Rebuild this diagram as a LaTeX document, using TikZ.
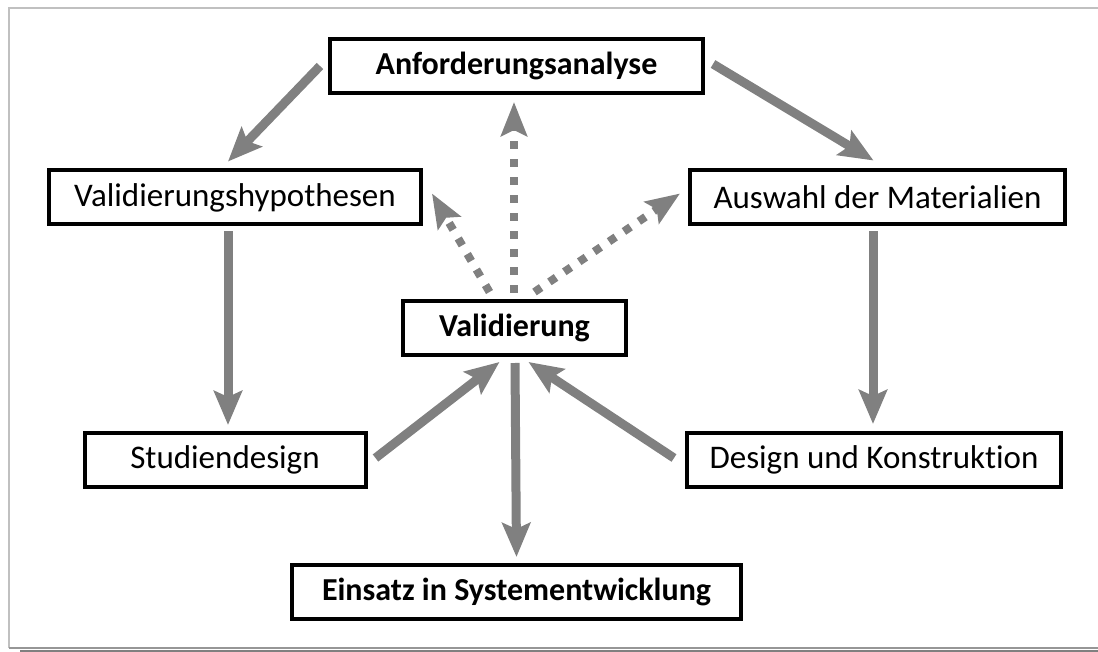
\documentclass[tikz,border=0pt]{standalone}
\usepackage{fontspec}
\setmainfont[Ligatures=NoCommon]{Carlito}
\usetikzlibrary{arrows.meta}
\definecolor{mygray}{RGB}{128,128,128}
\definecolor{mylightgray}{RGB}{192,192,192}
\definecolor{mymidgray}{RGB}{150,150,150}
\newcommand{\heightbox}{54pt}
\tikzset{
    common/.style={draw, rectangle, line width=4pt, minimum height=\heightbox, inner sep=0pt,
        font=\fontsize{33}{38}\selectfont},
    box/.style={common},
    boldbox/.style={common, font=\fontsize{32}{38}\selectfont\bfseries},
    flow/.style={mygray, line width=9pt, -{Stealth[length=34pt, width=28pt, inset=6pt]}},
    hint/.style={mygray, line width=8pt, dash pattern=on 8pt off 10pt,
        -{Stealth[length=34pt, width=26pt, inset=6pt]}}
}
\begin{document}
\begin{tikzpicture}[x=1pt, y=-1pt]
            \useasboundingbox (0,0) rectangle (1098,652);
            \draw[mylightgray, line width=2pt] (1098,8) -- (9,8) -- (9,648);
            \draw[mymidgray, line width=2pt] (9,648) -- (1098,648);
            \draw[mygray, line width=2pt] (20,650.5) -- (1098,650.5);

            \node[boldbox, minimum width=373pt] (anf) at (516.5,66) {Anforderungsanalyse};
            \node[box, minimum width=372pt] (hyp) at (235,197.5) {Validierungshypothesen};
            \node[box, minimum width=375pt] (ausw) at (877.5,197.5) {Auswahl der Materialien};
            \node[boldbox, minimum width=223pt] (val) at (514.5,328) {Validierung};
            \node[box, minimum width=281pt] (stud) at (225,460) {Studiendesign};
            \node[box, minimum width=374pt] (des) at (874,460) {Design und Konstruktion};
            \node[boldbox, minimum width=449pt] (ein) at (516.5,592) {Einsatz in Systementwicklung};

            \draw[flow] ([xshift=-8pt]anf.west) -- ([xshift=-7pt, yshift=7pt]hyp.north);
            \draw[flow] ([xshift=8pt, yshift=2pt]anf.east) -- ([xshift=-4pt, yshift=8pt]ausw.north);
            \draw[flow] ([xshift=-7pt, yshift=-5pt]hyp.south) -- ([xshift=3pt, yshift=6pt]stud.north);
            \draw[flow] ([xshift=-4.5pt, yshift=-5pt]ausw.south) -- ([xshift=-1pt, yshift=7pt]des.north);
            \draw[flow] ([xshift=8pt, yshift=2pt]stud.east) -- ([xshift=-15pt, yshift=-5pt]val.south);
            \draw[flow] ([xshift=-11pt, yshift=2pt]des.west) -- ([xshift=14pt, yshift=-5pt]val.south);
            \draw[flow] ([xshift=0.5pt, yshift=-6pt]val.south) -- ([yshift=6pt]ein.north);

            \draw[hint] ([xshift=-0.5pt, yshift=6pt]val.north) -- ([xshift=-2.5pt, yshift=-7pt]anf.south);
            \draw[hint] ([xshift=-25pt, yshift=7pt]val.north) -- ([xshift=9pt, yshift=4pt]hyp.east);
            \draw[hint] ([xshift=20pt, yshift=7pt]val.north) -- ([xshift=-8pt, yshift=4pt]ausw.west);
        \end{tikzpicture}
\end{document}
